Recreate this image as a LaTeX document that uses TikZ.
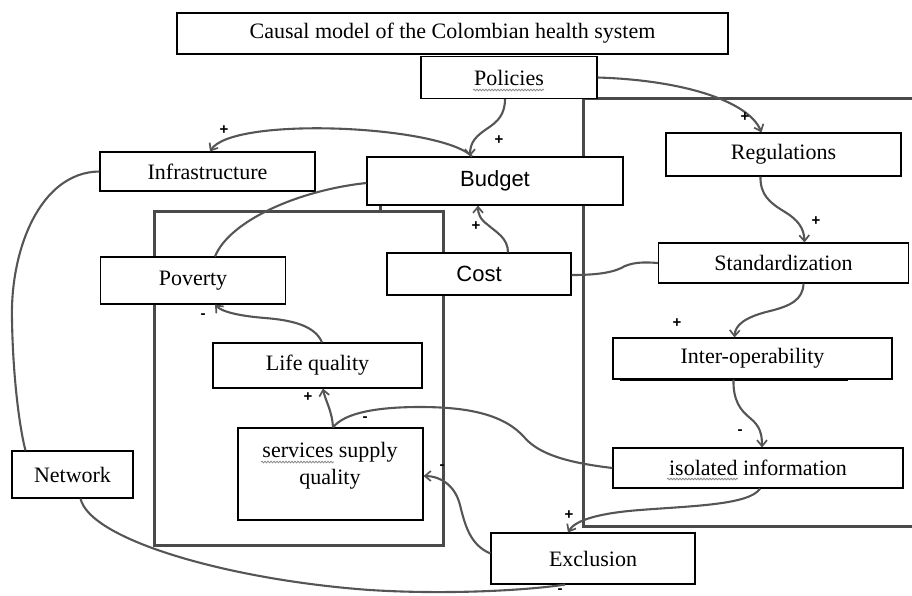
\documentclass[tikz,border=0pt]{standalone}
\usepackage{fontspec}
\setmainfont{Liberation Serif}
\setsansfont{Liberation Sans}
\usetikzlibrary{arrows.meta,decorations.pathmorphing}
\definecolor{linegray}{HTML}{555555}
\definecolor{framegray}{HTML}{4A4A4A}
\definecolor{wavegray}{HTML}{8A8A8A}
\tikzset{
  box/.style={draw=black, line width=1.1pt, fill=white, inner sep=0pt,
    font=\fontsize{22}{26}\selectfont},
  sbox/.style={box, font=\sffamily\fontsize{22}{26}\selectfont},
  conn/.style={draw=linegray, line width=2.1pt},
  arr/.style={conn, -{Straight Barb[length=6pt,width=10pt,line width=1.7pt]}},
  frm/.style={draw=framegray, line width=3pt},
  shd/.style={draw=black, line width=2.4pt},
  wave/.style={draw=wavegray, line width=0.8pt, decorate, decoration={snake, amplitude=0.8pt, segment length=3pt}},
  sgn/.style={font=\sffamily\bfseries\fontsize{15}{15}\selectfont, text=black, inner sep=0pt}
}
\begin{document}
\begin{tikzpicture}[x=1pt,y=-1pt]
\useasboundingbox (0,0) rectangle (912,595);
% frames
\draw[frm] (154,211) rectangle (443,545);
\draw[frm] (916,98) -- (583,98) -- (583,526) -- (916,526);
% boxes
\node[box, minimum width=551, minimum height=41] (title) at (452.5,33.5) {Causal model of the Colombian health system};
\node[box, minimum width=176, minimum height=42] (pol) at (509,77.5) {Policies};
\node[box, minimum width=215, minimum height=39] (inf) at (207.5,171.5) {Infrastructure};
\draw[shd] (315,153) -- (315,191) -- (102,191);
\node[sbox, minimum width=256, minimum height=48] (bud) at (495,181) {Budget};
\node[box, minimum width=185, minimum height=47] (pov) at (193,280.5) {Poverty};
\node[sbox, minimum width=184, minimum height=42] (cost) at (479,274) {Cost};
\node[box, minimum width=235, minimum height=43] (reg) at (783.5,154.5) {Regulations};
\node[box, minimum width=250, minimum height=40] (std) at (783.5,263) {Standardization};
\draw[shd] (700,243) -- (909,243);
\node[box, minimum width=279, minimum height=41] (io) at (752.5,358.5) {Inter-operability};
\draw[shd] (620,380) -- (848,380);
\node[box, minimum width=290, minimum height=40] (iso) at (758,468) {isolated information};
\node[box, minimum width=209, minimum height=45] (lq) at (317.5,365.5) {Life quality};
\node[box, minimum width=185, minimum height=92] (svc) at (330.5,474) {};
\draw[shd] (423,429) -- (423,520);
\node[box, draw=none, fill=none, align=center, font=\fontsize{22}{27}\selectfont] (svct) at (330,466) {services supply\\quality};
\node[box, minimum width=121, minimum height=47] (net) at (72.5,474.5) {Network};
\node[box, minimum width=204, minimum height=51] (exc) at (593,558.5) {Exclusion};
% spell-check underlines
\draw[wave] (473,90) -- (544,90);
\draw[wave] (261,462) -- (334,462);
\draw[wave] (667,479) -- (738,479);
% connectors
\draw[arr] ([xshift=-23]bud.north) .. controls (440,125) and (232,116) .. ([xshift=2.5]inf.north);
\draw[arr] ([xshift=-4]pol.south) .. controls (505,115) and (497,122) .. (488,128) .. controls (476,136) and (470,142) .. ([xshift=-25]bud.north);
\draw[arr] ([xshift=29]cost.north) .. controls (508,238) and (496,232) .. (488,225) .. controls (480,219) and (478,214) .. ([xshift=-17]bud.south);
\draw[arr] (pol.east) .. controls (680,80) and (748,100) .. ([xshift=-22]reg.north);
\draw[arr] ([xshift=-23]reg.south) .. controls (760,195) and (770,203) .. (785,212) .. controls (798,220) and (804,228) .. ([xshift=21]std.north);
\draw[arr] ([xshift=20]std.south) .. controls (803,300) and (790,306) .. (770,311) .. controls (745,317) and (735,325) .. ([xshift=-18]io.north);
\draw[arr] ([xshift=-19]io.south) .. controls (733,400) and (740,410) .. (750,418) .. controls (760,426) and (762,434) .. ([xshift=4]iso.north);
\draw[arr] ([xshift=2]iso.south) .. controls (750,505) and (690,506) .. (640,510) .. controls (600,513) and (575,520) .. ([xshift=-25]exc.north);
\draw[arr] ([yshift=5]exc.west) .. controls (470,545) and (465,525) .. (460,505) .. controls (455,485) and (440,476) .. ([yshift=-2]svc.east);
\draw[conn] (iso.west) .. controls (570,463) and (540,455) .. (525,438) .. controls (505,415) and (470,407) .. (420,407) .. controls (380,407) and (345,412) .. ([xshift=2.5]svc.north);
\draw[arr] ([xshift=2.5]svc.north) .. controls (332,410) and (325,400) .. ([xshift=5.5]lq.south);
\draw[arr] ([xshift=4.5]lq.north) .. controls (315,325) and (290,320) .. (265,318) .. controls (240,316) and (222,312) .. ([xshift=22]pov.south);
\draw[conn] ([xshift=22]pov.north) .. controls (230,220) and (300,190) .. ([yshift=-2]bud.west);
\draw[conn] (inf.west) .. controls (40,172) and (10,250) .. (12,320) .. controls (13,380) and (20,430) .. ([xshift=-47]net.north);
\draw[conn] ([xshift=8]net.south) .. controls (90,540) and (230,580) .. (370,590) .. controls (450,595) and (530,590) .. ([xshift=-28]exc.south);
\draw[conn] ([yshift=-1]cost.east) .. controls (600,275) and (615,272) .. (625,266) .. controls (635,262) and (645,262) .. (std.west);
\draw[frm] ([xshift=-115]bud.south) -- ++(0,6);
% signs
\node[sgn] (s1) at (224,130) {+};
\node[sgn] (s2) at (499,140) {+};
\node[sgn] (s3) at (476,226) {+};
\node[sgn] (s4) at (745,117) {+};
\node[sgn] (s5) at (816,221) {+};
\node[sgn] (s6) at (677,323) {+};
\node[sgn] (s7) at (569,515) {+};
\node[sgn] (s8) at (308,397) {+};
\node[sgn] (m1) at (740,432) {-};
\node[sgn] (m2) at (442,467) {-};
\node[sgn] (m3) at (365,419) {-};
\node[sgn] (m4) at (203,316) {-};
\node[sgn] (m5) at (560,591) {-};
\end{tikzpicture}
\end{document}
